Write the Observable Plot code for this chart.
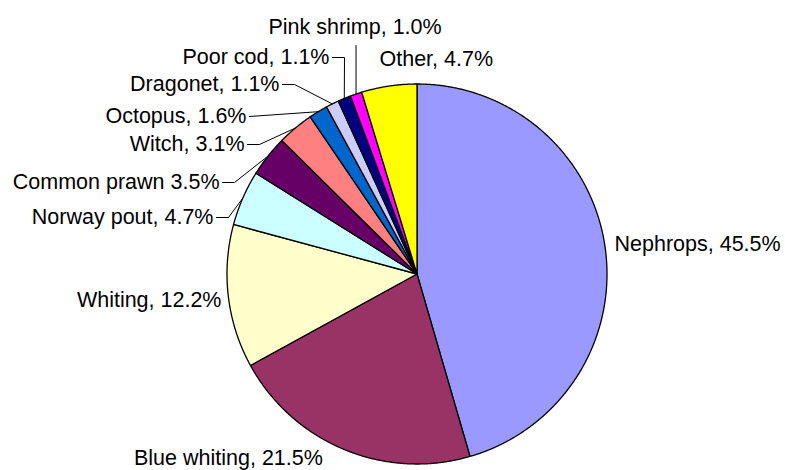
<!DOCTYPE html>
<html><head><meta charset="utf-8">
<script src="https://cdn.jsdelivr.net/npm/d3@7"></script>
<script src="https://cdn.jsdelivr.net/npm/@observablehq/plot@0.6"></script>
<style>body{margin:0;background:#fff} #chart{width:785px;height:470px}</style>
</head><body><div id="chart"></div>
<script>
// ---- data ----
const species = ["Nephrops","Blue whiting","Whiting","Norway pout","Common prawn","Witch","Octopus","Dragonet","Poor cod","Pink shrimp","Other"];
const shares = [45.5,21.5,12.2,4.7,3.5,3.1,1.6,1.1,1.1,1.0,4.7];
const labels = ["Nephrops, 45.5%","Blue whiting, 21.5%","Whiting, 12.2%","Norway pout, 4.7%","Common prawn 3.5%","Witch, 3.1%","Octopus, 1.6%","Dragonet, 1.1%","Poor cod, 1.1%","Pink shrimp, 1.0%","Other, 4.7%"];
const colors = ["#9999FF","#993366","#FFFFCC","#CCFFFF","#660066","#FF8080","#0066CC","#CCCCFF","#000080","#FF00FF","#FFFF00"];

// ---- layout (pixels) ----
const W = 785, H = 470, CX = 416.5, CY = 273.5, R = 190;
// label anchor x, y, text-anchor, leader type
const labelX = [614, 133.5, 221, 213, 219, 244, 246, 279, 329, 354.5, 379];
const labelY = [244, 457.5, 300, 217, 182, 144, 116, 84, 57, 27, 58.5];
const labelAnchor = ["start","start","end","end","end","end","end","end","end","middle","start"];
const leaderType = [null, null, null, "knee","knee","knee","straight","knee","knee","vertical", null];

const toU = px => (px - CX) / R;
const toV = py => (CY - py) / R;

// wedges from cumulative shares
const total = d3.sum(shares);
const cum = d3.cumsum(shares);
const slices = species.map((name, i) => {
  const a0 = (cum[i] - shares[i]) / total * 2 * Math.PI;
  const a1 = cum[i] / total * 2 * Math.PI;
  return {name, a0, a1, mid: (a0 + a1) / 2, color: colors[i], label: labels[i]};
});
function wedge(s) {
  const pts = [{x: 0, y: 0}];
  const n = Math.max(2, Math.ceil((s.a1 - s.a0) / 0.005));
  for (let k = 0; k <= n; k++) {
    const a = s.a0 + (s.a1 - s.a0) * k / n;
    pts.push({x: Math.sin(a), y: Math.cos(a)});
  }
  return pts;
}

// leaders
const leaders = [];
slices.forEach((s, i) => {
  const t = leaderType[i];
  if (!t) return;
  const ex = Math.sin(s.mid), ey = Math.cos(s.mid);
  const lx = labelX[i], ly = labelY[i];
  if (t === "knee") {
    leaders.push({name: s.name, x: toU(lx + 3), y: toV(ly)});
    leaders.push({name: s.name, x: toU(lx + 15), y: toV(ly)});
  } else if (t === "straight") {
    leaders.push({name: s.name, x: toU(lx + 3), y: toV(ly)});
  } else if (t === "vertical") {
    leaders.push({name: s.name, x: ex, y: toV(ly + 18)});
  }
  leaders.push({name: s.name, x: ex, y: ey});
});

const labelData = slices.map((s, i) => ({text: s.label, x: toU(labelX[i]), y: toV(labelY[i]), anchor: labelAnchor[i]}));

const font = "'Liberation Sans', Arial, Helvetica, sans-serif";
const textMark = anchor => Plot.text(labelData.filter(d => d.anchor === anchor), {
  x: "x", y: "y", text: "text", textAnchor: anchor, fontSize: 21.5, fill: "#000"
});

const chart = Plot.plot({
  width: W, height: H, margin: 0,
  style: {fontFamily: font, background: "#fff", overflow: "visible"},
  x: {domain: [toU(0), toU(W)], range: [0, W], axis: null},
  y: {domain: [toV(H), toV(0)], range: [H, 0], axis: null},
  marks: [
    ...slices.map(s => Plot.line(wedge(s), {x: "x", y: "y", fill: s.color, stroke: "#000", strokeWidth: 1.3, strokeLinejoin: "round", curve: "linear-closed"})),
    Plot.line(leaders, {x: "x", y: "y", z: "name", stroke: "#000", strokeWidth: 1}),
    textMark("start"), textMark("end"), textMark("middle")
  ]
});
document.getElementById("chart").appendChild(chart);
</script>
</body></html>
